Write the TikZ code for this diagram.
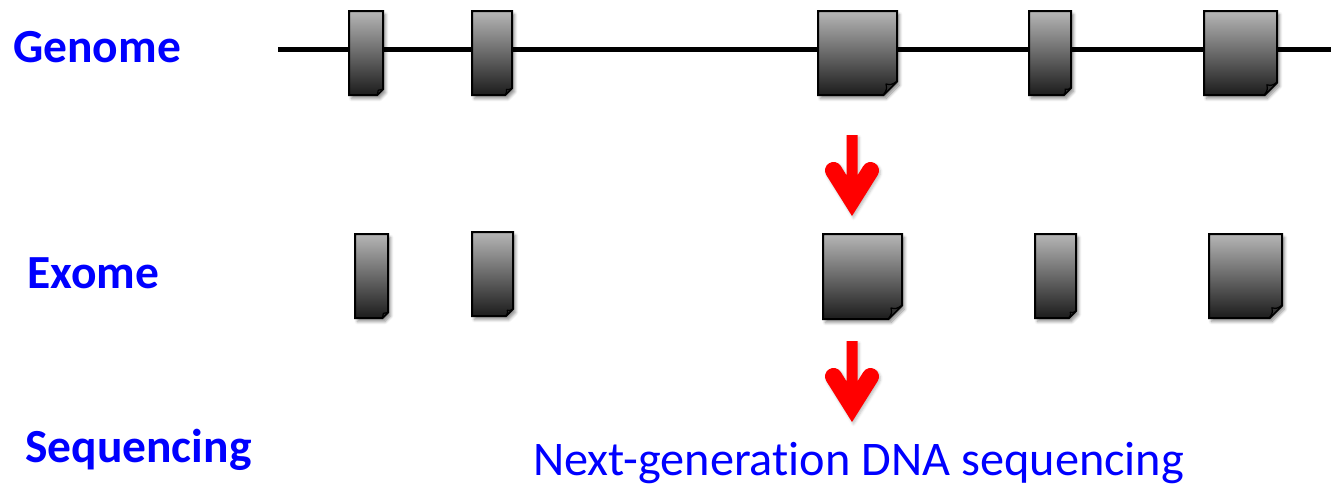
\documentclass[tikz,border=0pt]{standalone}
\usepackage{fontspec}
\setmainfont[Ligatures=NoCommon]{Carlito}
\usetikzlibrary{shadows.blur}

\definecolor{exontop}{RGB}{182,182,182}
\definecolor{exonbot}{RGB}{28,28,28}
\definecolor{foldgray}{RGB}{50,50,50}
\definecolor{labelblue}{RGB}{0,0,255}

\tikzset{
  lbl/.style={inner sep=0pt, text=labelblue, anchor=base west,
    font=\fontsize{47.5}{56}\selectfont\bfseries},
  caption/.style={inner sep=0pt, text=labelblue, anchor=base west,
    font=\fontsize{48.3}{56}\selectfont},
  exonbody/.style={top color=exontop, bottom color=exonbot, draw=black,
    line width=2pt, line join=miter,
    blur shadow={shadow xshift=2.5pt, shadow yshift=-3.5pt,
      shadow blur radius=3pt, shadow blur steps=6, shadow opacity=45}},
  exonfold/.style={fill=foldgray, draw=black, line width=1.2pt, line join=round},
  pics/downarrow/.style={code={
    \fill[red, blur shadow={shadow xshift=1.5pt, shadow yshift=-2pt,
        shadow blur radius=2.5pt, shadow opacity=25}]
      (-5.5,0) -- (5.5,0) -- (5.5,40.3) -- (11.3,31.0)
      arc[start angle=-147.9, end angle=32.1, radius=8.5]
      -- (0,81) -- (-25.7,40.0)
      arc[start angle=147.9, end angle=327.9, radius=8.5]
      -- (-5.5,40.3) -- cycle;
  }}
}

% \exon{name}{x1}{y1}{x2}{y2}: a shaded block with a folded lower-right corner
\newcommand\exon[5]{%
  \pgfmathsetmacro\foldc{0.17*(#4-#2)}%
  \coordinate (#1) at ({(#2+#4)/2},{(#3+#5)/2});
  \path[exonbody] (#2,#3) -- (#4,#3) -- (#4,#5-\foldc) -- (#4-\foldc,#5) -- (#2,#5) -- cycle;
  \path[exonfold] (#4,#5-\foldc) -- (#4-\foldc,#5)
    .. controls (#4-0.75*\foldc,#5-0.45*\foldc) .. (#4-0.82*\foldc,#5-0.82*\foldc)
    .. controls (#4-0.45*\foldc,#5-0.75*\foldc) .. cycle;
}

\begin{document}
\begin{tikzpicture}[x=1pt,y=-1pt]
\useasboundingbox (0,0) rectangle (1331,485);

% row labels
\node[lbl] (genome) at (13,62) {Genome};
\node[lbl] (exome) at (27,288) {Exome};
\node[lbl] (sequencing) at (25,462) {Sequencing};

% genomic backbone
\coordinate (gl) at (278,49.5);
\coordinate (gr) at (1331,49.5);
\draw[line width=5.5pt] (gl) -- (gr);

% exons on the genome
\exon{g1}{349}{11}{383}{95}
\exon{g2}{472}{11}{512}{95}
\exon{g3}{818}{11}{897}{95}
\exon{g4}{1029}{11}{1071}{95}
\exon{g5}{1204}{11}{1277}{95}

% captured exome
\exon{e1}{355}{234}{388}{318}
\exon{e2}{472}{232}{513}{316}
\exon{e3}{823}{234}{902}{319}
\exon{e4}{1035}{234}{1076}{318}
\exon{e5}{1209}{234}{1282}{318}

% process arrows
\pic (a1) at (852,135) {downarrow};
\pic (a2) at (852,341) {downarrow};

\node[caption] (ngs) at (533,475) {Next-generation DNA sequencing};
\end{tikzpicture}
\end{document}
